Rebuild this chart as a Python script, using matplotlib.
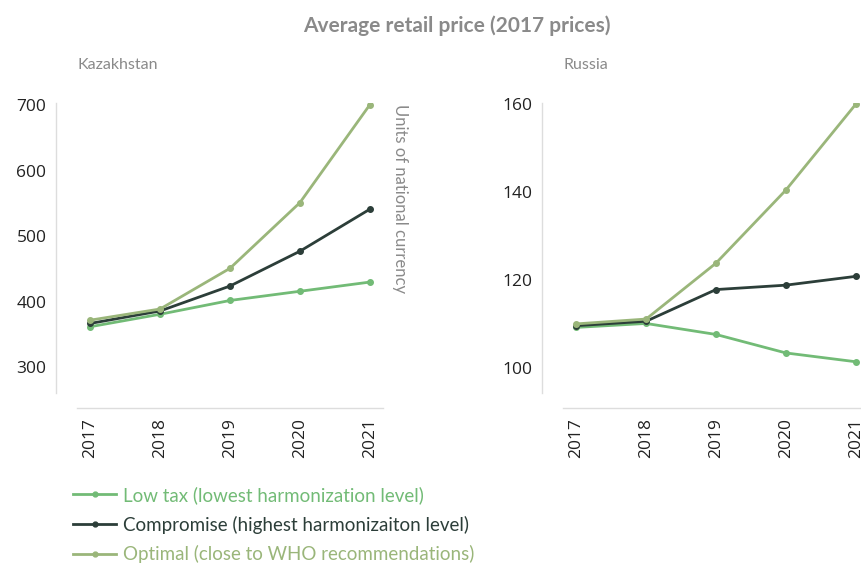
import matplotlib.pyplot as plt

# data
YEARS = [2017, 2018, 2019, 2020, 2021]
SERIES = ["Low tax (lowest harmonization level)",
          "Compromise (highest harmonizaiton level)",
          "Optimal (close to WHO recommendations)"]
COLORS = ["#72bb76", "#2c3e39", "#9ab67a"]

KZ_LOW = [362, 381, 402, 416, 430]
KZ_COMP = [367, 386, 424, 477, 541]
KZ_OPT = [372, 389, 451, 551, 700]

RU_LOW = [109.3, 110.2, 107.7, 103.5, 101.5]
RU_COMP = [109.7, 110.7, 117.9, 118.9, 120.9]
RU_OPT = [110.1, 111.2, 123.9, 140.5, 160]

KZ_TICKS = [300, 400, 500, 600, 700]
RU_TICKS = [100, 120, 140, 160]

GRIGIO = "#8a8a8a"
SPINE = "#dddddd"
plt.rcParams["font.family"] = ["Lato", "DejaVu Sans"]

fig = plt.figure(figsize=(8.62, 5.67), dpi=100)
ax_kz = fig.add_axes([0.0893, 0.3069, 0.355, 0.5115])
ax_ru = fig.add_axes([0.6531, 0.3069, 0.355, 0.5115])


def pannello(ax, serie, ticks, ylim):
    for vals, c in zip(serie, COLORS):
        ax.plot(YEARS, vals, color=c, lw=2, marker="o", ms=4)
    ax.set_xlim(2016.81, 2021.19)
    ax.set_ylim(*ylim)
    ax.set_yticks(ticks)
    ax.set_xticks(YEARS, [str(y) for y in YEARS])
    for s in ("top", "right"):
        ax.spines[s].set_visible(False)
    ax.spines["left"].set_position(("outward", 15))
    ax.spines["bottom"].set_position(("outward", 11))
    for s in ("left", "bottom"):
        ax.spines[s].set_color(SPINE)
        ax.spines[s].set_linewidth(1)
    ax.tick_params(length=0, labelsize=12.5, colors="#222222")
    ax.tick_params(axis="y", pad=7)
    ax.tick_params(axis="x", pad=7, labelrotation=90)
    for lab in ax.get_xticklabels() + ax.get_yticklabels():
        lab.set_family(["Open Sans", "DejaVu Sans"])


pannello(ax_kz, [KZ_LOW, KZ_COMP, KZ_OPT], KZ_TICKS, (261, 703))
pannello(ax_ru, [RU_LOW, RU_COMP, RU_OPT], RU_TICKS, (94.4, 160.3))

fig.text(0.53, 1 - 26 / 567, "Average retail price (2017 prices)",
         ha="center", va="center", fontsize=15, fontweight="bold", color=GRIGIO)
fig.text(78 / 862, 1 - 65 / 567, "Kazakhstan", ha="left", va="center",
         fontsize=11.5, color=GRIGIO)
fig.text(564 / 862, 1 - 65 / 567, "Russia", ha="left", va="center",
         fontsize=11.5, color=GRIGIO)
fig.text(400 / 862, 1 - 104 / 567, "Units of national currency", rotation=270,
         ha="center", va="top", fontsize=12, color=GRIGIO)

handles = ax_kz.get_lines()
leg = fig.legend(handles, SERIES, loc="upper left",
                 bbox_to_anchor=(73 / 862, 1 - 486 / 567), frameon=False,
                 fontsize=13.5, labelcolor="linecolor", handlelength=2.3,
                 handletextpad=0.35, labelspacing=0.62, borderpad=0,
                 borderaxespad=0)
for h in leg.legend_handles:
    h.set_markersize(3.5)

fig.savefig("out.png", dpi=100)
